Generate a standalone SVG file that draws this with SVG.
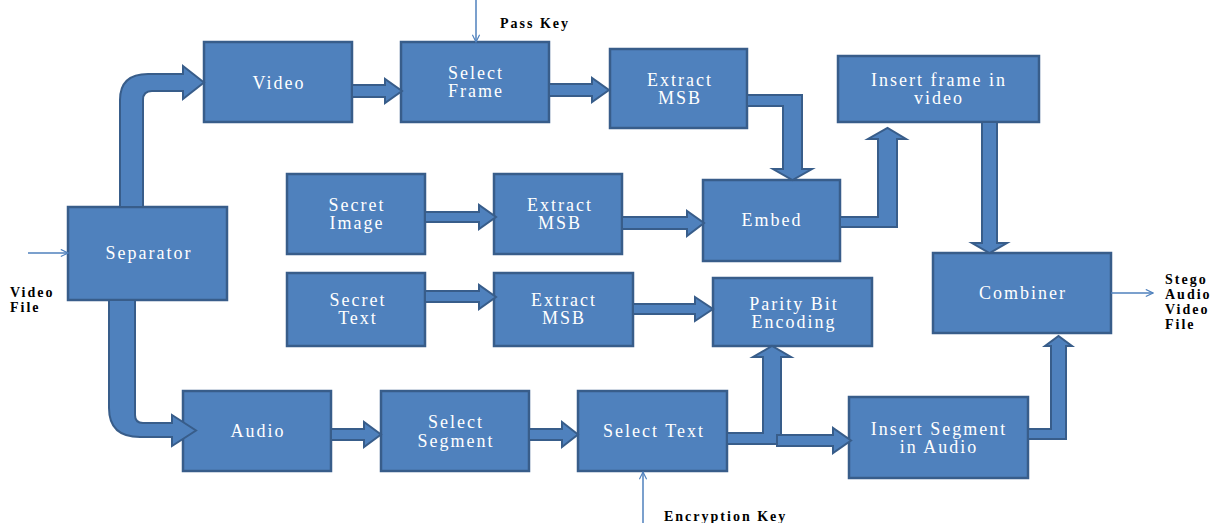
<svg xmlns="http://www.w3.org/2000/svg" width="1214" height="523" viewBox="0 0 1214 523">
<defs>
<style>
.box{fill:#4F81BD;stroke:#385D8A;stroke-width:2.5}
.blk{fill:#4F81BD;stroke:#385D8A;stroke-width:2;stroke-linejoin:miter}
.t{font-family:"Liberation Serif","Times New Roman",serif;font-size:18px;fill:#FFFFFF;text-anchor:middle;letter-spacing:2px}
.lbl{font-family:"Liberation Serif","Times New Roman",serif;font-size:14px;font-weight:bold;fill:#000000;letter-spacing:2px}
.thin{fill:none;stroke:#4F81BD;stroke-width:1.5}
</style>
<marker id="open" viewBox="0 0 10 10" refX="9" refY="5" markerWidth="9" markerHeight="9" markerUnits="userSpaceOnUse" orient="auto">
<path d="M1,1 L9,5 L1,9" fill="none" stroke="#4F81BD" stroke-width="1.3"/>
</marker>
</defs>
<rect width="1214" height="523" fill="#FFFFFF"/>

<g id="video"><rect class="box" x="204" y="42" width="148" height="80"/><text class="t" x="279" y="89">Video</text></g>
<g id="select-frame"><rect class="box" x="401" y="42" width="148" height="80"/><text class="t" x="476" y="79">Select</text><text class="t" x="476" y="97">Frame</text></g>
<g id="extract-msb-1"><rect class="box" x="610" y="49" width="137" height="79"/><text class="t" x="680" y="86">Extract</text><text class="t" x="680" y="104">MSB</text></g>
<g id="insert-frame"><rect class="box" x="838" y="56" width="201" height="66"/><text class="t" x="939" y="86">Insert frame in</text><text class="t" x="939" y="104">video</text></g>
<g id="secret-image"><rect class="box" x="287" y="174" width="138" height="80"/><text class="t" x="357" y="211">Secret</text><text class="t" x="357" y="229">Image</text></g>
<g id="extract-msb-2"><rect class="box" x="494" y="174" width="128" height="80"/><text class="t" x="560" y="211">Extract</text><text class="t" x="560" y="229">MSB</text></g>
<g id="embed"><rect class="box" x="703" y="180" width="137" height="81"/><text class="t" x="772" y="226">Embed</text></g>
<g id="separator"><rect class="box" x="68" y="207" width="159" height="93"/><text class="t" x="149" y="259">Separator</text></g>
<g id="secret-text"><rect class="box" x="287" y="273" width="138" height="73"/><text class="t" x="358" y="306">Secret</text><text class="t" x="358" y="324">Text</text></g>
<g id="extract-msb-3"><rect class="box" x="494" y="273" width="139" height="73"/><text class="t" x="564" y="306">Extract</text><text class="t" x="564" y="324">MSB</text></g>
<g id="parity"><rect class="box" x="713" y="278" width="159" height="68"/><text class="t" x="794" y="310">Parity Bit</text><text class="t" x="794" y="328">Encoding</text></g>
<g id="combiner"><rect class="box" x="933" y="253" width="178" height="80"/><text class="t" x="1023" y="299">Combiner</text></g>
<g id="audio"><rect class="box" x="183" y="391" width="148" height="80"/><text class="t" x="258" y="437">Audio</text></g>
<g id="select-segment"><rect class="box" x="381" y="391" width="148" height="80"/><text class="t" x="456" y="428">Select</text><text class="t" x="456" y="447">Segment</text></g>
<g id="select-text"><rect class="box" x="578" y="391" width="149" height="80"/><text class="t" x="654" y="437">Select Text</text></g>
<g id="insert-segment"><rect class="box" x="849" y="397" width="179" height="81"/><text class="t" x="939" y="435">Insert Segment</text><text class="t" x="939" y="453">in Audio</text></g>

<g id="connectors">
<path class="blk" d="M120,207 V100 Q120,74 148,74 H183 V66 L204,82.5 L183,99 V91 H152 Q143,91 143,100 V207 Z"/>
<path class="blk" d="M109,300 V408 Q109,437 140,437 H172 V446 L196,430.5 L172,415 V423 H143 Q135,423 135,415 V300 Z"/>
<path class="blk" d="M352,85 H385 V79 L402,91 L385,103 V97 H352 Z"/>
<path class="blk" d="M549,84 H592 V78 L609,90 L592,102 V96 H549 Z"/>
<path class="blk" d="M747,95 H802 V169 H812 L792.5,180 L773,169 H783 V106 H747 Z"/>
<path class="blk" d="M840,227 H897 V139 H906 L887.5,128 L868,139 H878 V217 H840 Z"/>
<path class="blk" d="M982,122 H997 V243 H1007 L989.5,253 L972,243 H982 Z"/>
<path class="blk" d="M425,212 H479 V205 L496,217 L479,229 V222 H425 Z"/>
<path class="blk" d="M622,217 H687 V211 L704,223 L687,236 V229 H622 Z"/>
<path class="blk" d="M425,291 H479 V285 L496,297 L479,309 V302 H425 Z"/>
<path class="blk" d="M633,304 H695 V297 L713,309 L695,321 V314 H633 Z"/>
<path class="blk" d="M331,429 H364 V422 L381,434.5 L364,447 V440 H331 Z"/>
<path class="blk" d="M529,429 H562 V422 L578,434.5 L562,447 V440 H529 Z"/>
<path class="blk" d="M727,444 H781 V357 H791 L772,346 L753,357 H763 V433 H727 Z"/>
<path class="blk" d="M777,435 H833 V428 L851,440.5 L833,453 V446 H777 Z"/>
<path class="blk" d="M1028,439 H1066 V346 H1072 L1058.5,336 L1045,346 H1051 V429 H1028 Z"/>
<line class="thin" x1="476" y1="0" x2="476" y2="42" marker-end="url(#open)"/>
<line class="thin" x1="28" y1="253" x2="68" y2="253" marker-end="url(#open)"/>
<line class="thin" x1="1111" y1="293" x2="1153" y2="293" marker-end="url(#open)"/>
<line class="thin" x1="643" y1="523" x2="643" y2="472" marker-end="url(#open)"/>
</g>

<g id="labels">
<text class="lbl" x="500" y="28">Pass Key</text>
<text class="lbl" x="10" y="297">Video</text>
<text class="lbl" x="10" y="312">File</text>
<text class="lbl" x="664" y="521">Encryption Key</text>
<text class="lbl" x="1165" y="284">Stego</text>
<text class="lbl" x="1165" y="299">Audio</text>
<text class="lbl" x="1165" y="314">Video</text>
<text class="lbl" x="1165" y="329">File</text>
</g>
</svg>
